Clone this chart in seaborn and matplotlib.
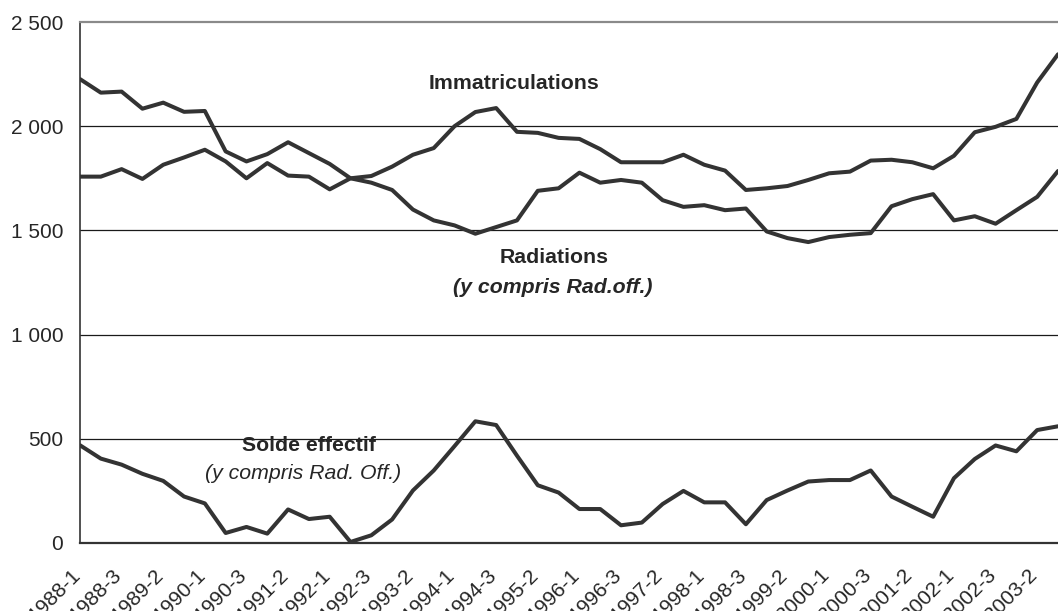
import pandas as pd
import numpy as np
import matplotlib
matplotlib.use("Agg")
import matplotlib.pyplot as plt
from matplotlib.transforms import offset_copy
import seaborn as sns

# four-month periods, 1988-1 .. 2003-3
periods = [f"{y}-{p}" for y in range(1988, 2004) for p in (1, 2, 3)]

immatriculations = [2226, 2161, 2166, 2084, 2113, 2069, 2073, 1879, 1831, 1866,
                    1923, 1871, 1819, 1750, 1761, 1806, 1863, 1895, 2000, 2068,
                    2087, 1973, 1968, 1944, 1939, 1890, 1827, 1827, 1827, 1863,
                    1815, 1787, 1694, 1702, 1713, 1742, 1774, 1782, 1835, 1839,
                    1827, 1798, 1858, 1971, 1997, 2035, 2210, 2345]

radiations = [1758, 1758, 1794, 1747, 1815, 1850, 1887, 1831, 1750, 1823,
              1763, 1758, 1697, 1750, 1729, 1694, 1600, 1548, 1524, 1484,
              1516, 1548, 1690, 1702, 1777, 1729, 1742, 1729, 1645, 1613,
              1621, 1597, 1605, 1495, 1463, 1444, 1468, 1479, 1487, 1616,
              1650, 1674, 1548, 1568, 1532, 1597, 1661, 1785]

solde = [469, 405, 376, 332, 298, 223, 190, 48, 77, 45,
         161, 115, 126, 5, 37, 113, 252, 348, 465, 584,
         566, 419, 277, 242, 163, 163, 85, 98, 187, 250,
         195, 195, 90, 206, 252, 295, 302, 302, 348, 223,
         174, 126, 311, 403, 468, 440, 542, 560]

xtick_labels = ["1988-1", "1988-3", "1989-2", "1990-1", "1990-3", "1991-2",
                "1992-1", "1992-3", "1993-2", "1994-1", "1994-3", "1995-2",
                "1996-1", "1996-3", "1997-2", "1998-1", "1998-3", "1999-2",
                "2000-1", "2000-3", "2001-2", "2002-1", "2002-3", "2003-2"]

yticks = [0, 500, 1000, 1500, 2000, 2500]
ytick_labels = ["0", "500", "1 000", "1 500", "2 000", "2 500"]

df = pd.DataFrame({
    "periode": periods,
    "idx": np.arange(len(periods)),
    "Immatriculations": immatriculations,
    "Radiations": radiations,
    "Solde": solde,
})

sns.set_style("white")
plt.rcParams["font.family"] = ["Liberation Sans", "DejaVu Sans"]

W, H = 1058, 611
fig = plt.figure(figsize=(W / 100, H / 100), dpi=100)
ax = fig.add_axes([80 / W, 1 - 543 / H, 1 - 80 / W, (543 - 22) / H])

line_col = "#333333"
for col in ["Immatriculations", "Radiations", "Solde"]:
    sns.lineplot(data=df, x="idx", y=col, color=line_col, linewidth=2.9, ax=ax)

ax.set_xlim(0, (W - 80) / 21.01)
ax.set_ylim(0, 2500)

# grid + frame
for v in yticks[1:-1]:
    ax.axhline(v, color="#1a1a1a", lw=0.9, zorder=0)
ax.spines["top"].set_color("#8a8a8a")
ax.spines["top"].set_linewidth(1.6)
ax.spines["right"].set_visible(False)
ax.spines["left"].set_color("#333333")
ax.spines["left"].set_linewidth(1.2)
ax.spines["bottom"].set_color("#333333")
ax.spines["bottom"].set_linewidth(1.6)

ax.set_yticks(yticks)
ax.set_yticklabels(ytick_labels)
ax.set_xticks(df["idx"])
ax.set_xticklabels([])
ax.tick_params(axis="x", length=4, width=1, color="#333333")
ax.tick_params(axis="y", length=5.3, width=1, color="#333333", pad=6.8, labelsize=15)
ax.set_xlabel("")
ax.set_ylabel("")

# rotated period labels, one every two ticks, ending just left of the tick
lab_trans = offset_copy(ax.get_xaxis_transform(), fig=fig, x=-9.5, y=-22.5, units="dots")
for k, t in enumerate(xtick_labels):
    ax.text(df["idx"][2 * k], 0, t, transform=lab_trans, rotation=45,
            rotation_mode="anchor", ha="right", va="top", fontsize=15, clip_on=False)

fs = 15.3
ax.text(20.85, 2206, "Immatriculations", ha="center", va="center", fontsize=fs, fontweight="bold")
ax.text(22.79, 1371, "Radiations", ha="center", va="center", fontsize=fs, fontweight="bold")
ax.text(22.74, 1227, "(y compris Rad.off.)", ha="center", va="center", fontsize=fs,
        fontweight="bold", style="italic")
ax.text(11.0, 469, "Solde effectif", ha="center", va="center", fontsize=fs, fontweight="bold")
ax.text(10.7, 335, "(y compris Rad. Off.)", ha="center", va="center", fontsize=fs, style="italic")

fig.savefig("out.png", dpi=100)
